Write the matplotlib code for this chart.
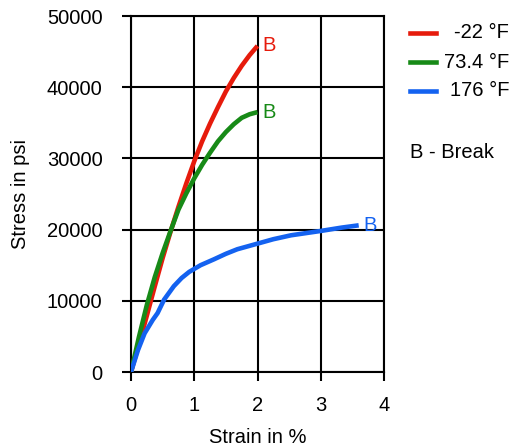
import matplotlib
matplotlib.use("Agg")
from matplotlib import pyplot as plt
from matplotlib.lines import Line2D

plt.rcParams['font.family'] = ['Liberation Sans', 'DejaVu Sans']

# Stress-strain curves
strain_cold = [0, 0.125, 0.25, 0.375, 0.5, 0.625, 0.75, 0.875, 1.0, 1.125, 1.25, 1.375,
               1.5, 1.625, 1.75, 1.875, 2.0]
stress_cold = [0, 3900, 7900, 12000, 16000, 19700, 23200, 26500, 29600, 32400, 34900, 37200,
               39400, 41300, 43000, 44500, 45800]

strain_room = [0, 0.125, 0.25, 0.375, 0.5, 0.625, 0.75, 0.875, 1.0, 1.125, 1.25, 1.375,
               1.5, 1.625, 1.75, 1.875, 2.0]
stress_room = [0, 4900, 9400, 13300, 16700, 19800, 22800, 25100, 27200, 29100, 30800, 32400,
               33700, 34800, 35700, 36200, 36500]

strain_hot = [0, 0.11, 0.215, 0.344, 0.42, 0.523, 0.677, 0.8, 0.92, 1.1, 1.31, 1.5, 1.68,
              2.0, 2.25, 2.53, 3.0, 3.33, 3.6]
stress_hot = [0, 3070, 5430, 7320, 8270, 10160, 12050, 13200, 14060, 15000, 15820, 16600, 17240,
              18030, 18650, 19200, 19810, 20280, 20600]

labels = ['-22 °F', '73.4 °F', '176 °F']
colors = ['#e61b0c', '#178a17', '#1462f0']

fs = 14.5

fig = plt.figure(figsize=(5.14, 4.47), dpi=100)
ax = fig.add_axes([131 / 514, 75 / 447, 253 / 514, 356 / 447])

for x, y, c in zip([strain_cold, strain_room, strain_hot],
                   [stress_cold, stress_room, stress_hot], colors):
    ax.plot(x, y, color=c, lw=3.3, solid_capstyle='butt', solid_joinstyle='round', zorder=3)
    ax.text(x[-1] + 0.07, y[-1], 'B', color=c, fontsize=fs, va='center', ha='left', zorder=4)

ax.set_xlim(0, 4)
ax.set_ylim(0, 50000)
ax.set_xticks([0, 1, 2, 3, 4])
ax.set_yticks([0, 10000, 20000, 30000, 40000, 50000])
ax.grid(True, color='black', lw=1.5)
for s in ax.spines.values():
    s.set_linewidth(1.5)
ax.tick_params(direction='out', length=6.5, width=1.5, labelsize=fs)
ax.tick_params(axis='y', pad=14)
ax.tick_params(axis='x', pad=11)
ax.set_xlabel('Strain in %', fontsize=fs, labelpad=9)
ax.set_ylabel('Stress in psi', fontsize=fs, labelpad=12)

# legend drawn by hand at the right
for i, (lab, c) in enumerate(zip(labels, colors)):
    yy = 1 - (33 + 29 * i) / 447
    fig.add_artist(Line2D([410 / 514, 436 / 514], [yy, yy], color=c, lw=3.3,
                          transform=fig.transFigure))
    fig.text(509 / 514, yy, lab, ha='right', va='center', fontsize=fs)
fig.text(410 / 514, 1 - 153 / 447, 'B - Break', ha='left', va='center', fontsize=fs)

fig.savefig('out.png', dpi=100)
